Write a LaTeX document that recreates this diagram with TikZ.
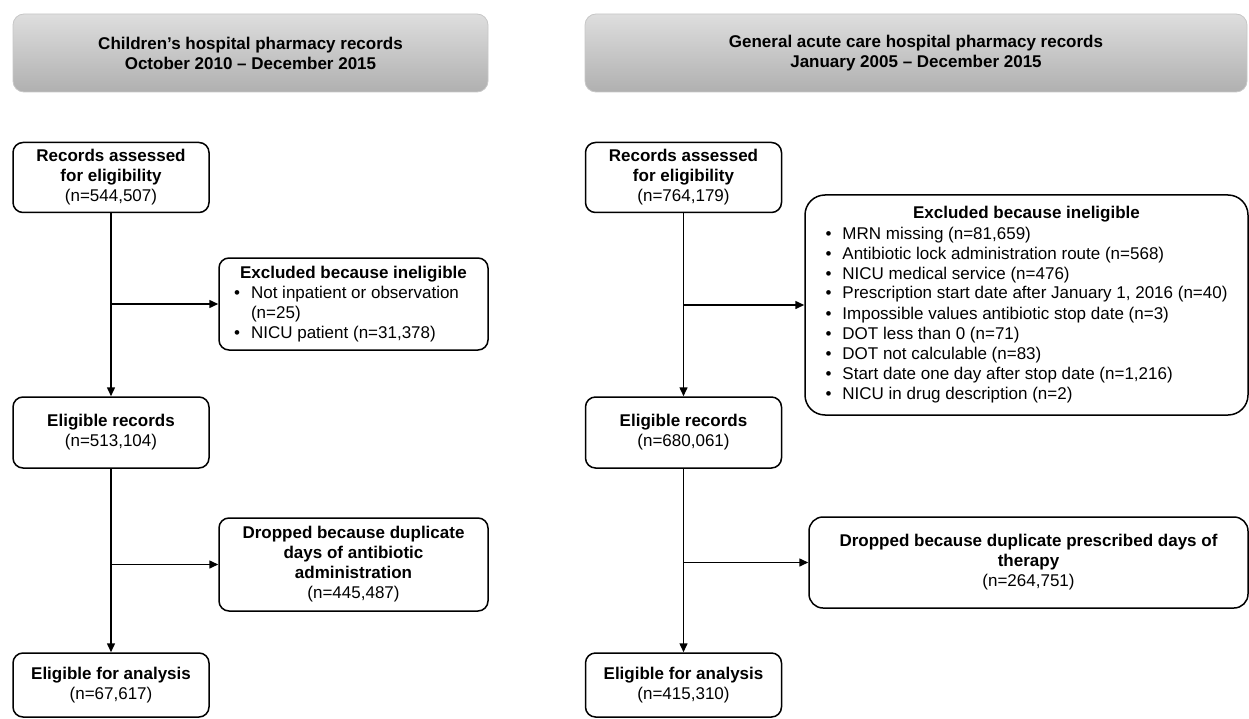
\documentclass[tikz,border=0pt]{standalone}
\usepackage{fontspec}
\setmainfont{Liberation Sans}
\usetikzlibrary{arrows.meta}

\begin{document}
\begin{tikzpicture}[x=1pt,y=-1pt,
  font=\fontsize{17}{20}\selectfont,
  flowbox/.style={draw, line width=1.5pt, rounded corners=10pt, fill=white,
    align=center, inner sep=3pt, minimum width=196, minimum height=70},
  header/.style={draw=black!22, line width=0.8pt, rounded corners=11pt,
    top color=black!13, bottom color=black!31, align=center, minimum height=78,
    font=\fontsize{17}{20}\selectfont\bfseries},
  flow/.style={line width=1.5pt, -{Triangle[length=9pt,width=8pt]}}]

\useasboundingbox (0,0) rectangle (1249,719);

\def\colL{111}   % left column centre
\def\colR{683.5} % right column centre

% headers
\node[header, minimum width=475] (hdrL) at (250.5,53)
  {Children’s hospital pharmacy records\\October 2010 – December 2015};
\node[header, minimum width=662] (hdrR) at (916,53)
  {General acute care hospital pharmacy records\\January 2005 – December 2015};

% children's hospital
\node[flowbox] (recL) at (\colL,177.5)
  {\textbf{Records assessed}\\\textbf{for eligibility}\\(n=544,507)};
\node[flowbox, minimum width=269, minimum height=92] (exclL) at (353.5,304)
  {\begin{tabular}{@{}l@{\hspace{11pt}}l@{}}
   \multicolumn{2}{c}{\textbf{Excluded because ineligible}}\\
   \textbullet & Not inpatient or observation\\
               & (n=25)\\
   \textbullet & NICU patient (n=31,378)
   \end{tabular}};
\node[flowbox, minimum height=71] (eligL) at (\colL,432.5)
  {\textbf{Eligible records}\\(n=513,104)};
\node[flowbox, minimum width=269, minimum height=93] (dropL) at (353.5,564.5)
  {\textbf{Dropped because duplicate}\\\textbf{days of antibiotic}\\
   \textbf{administration}\\(n=445,487)};
\node[flowbox, minimum height=64] (anaL) at (\colL,685)
  {\textbf{Eligible for analysis}\\(n=67,617)};

% general acute care hospital
\node[flowbox] (recR) at (\colR,177.5)
  {\textbf{Records assessed}\\\textbf{for eligibility}\\(n=764,179)};
\node[flowbox, rounded corners=20pt, minimum width=443, minimum height=220] (exclR) at (1026.5,305)
  {\begin{tabular}{@{}l@{\hspace{11pt}}l@{}}
   \multicolumn{2}{c}{\textbf{Excluded because ineligible}}\\
   \textbullet & MRN missing (n=81,659)\\
   \textbullet & Antibiotic lock administration route (n=568)\\
   \textbullet & NICU medical service (n=476)\\
   \textbullet & Prescription start date after January 1, 2016 (n=40)\\
   \textbullet & Impossible values antibiotic stop date (n=3)\\
   \textbullet & DOT less than 0 (n=71)\\
   \textbullet & DOT not calculable (n=83)\\
   \textbullet & Start date one day after stop date (n=1,216)\\
   \textbullet & NICU in drug description (n=2)
   \end{tabular}};
\node[flowbox, minimum height=71] (eligR) at (\colR,432.5)
  {\textbf{Eligible records}\\(n=680,061)};
\node[flowbox, rounded corners=14pt, minimum width=439, minimum height=91] (dropR) at (1028.5,562.5)
  {\textbf{Dropped because duplicate prescribed days of}\\\textbf{therapy}\\(n=264,751)};
\node[flowbox, minimum height=64] (anaR) at (\colR,685)
  {\textbf{Eligible for analysis}\\(n=415,310)};

% connectors
\draw[flow] (recL) -- (eligL);
\draw[flow] (eligL) -- (anaL);
\draw[flow] (recL.south |- exclL.west) -- (exclL.west);
\draw[flow] (eligL.south |- dropL.west) -- (dropL.west);
\draw[flow] (recR) -- (eligR);
\draw[flow] (eligR) -- (anaR);
\draw[flow] (recR.south |- exclR.west) -- (exclR.west);
\draw[flow] (eligR.south |- dropR.west) -- (dropR.west);
\end{tikzpicture}
\end{document}
